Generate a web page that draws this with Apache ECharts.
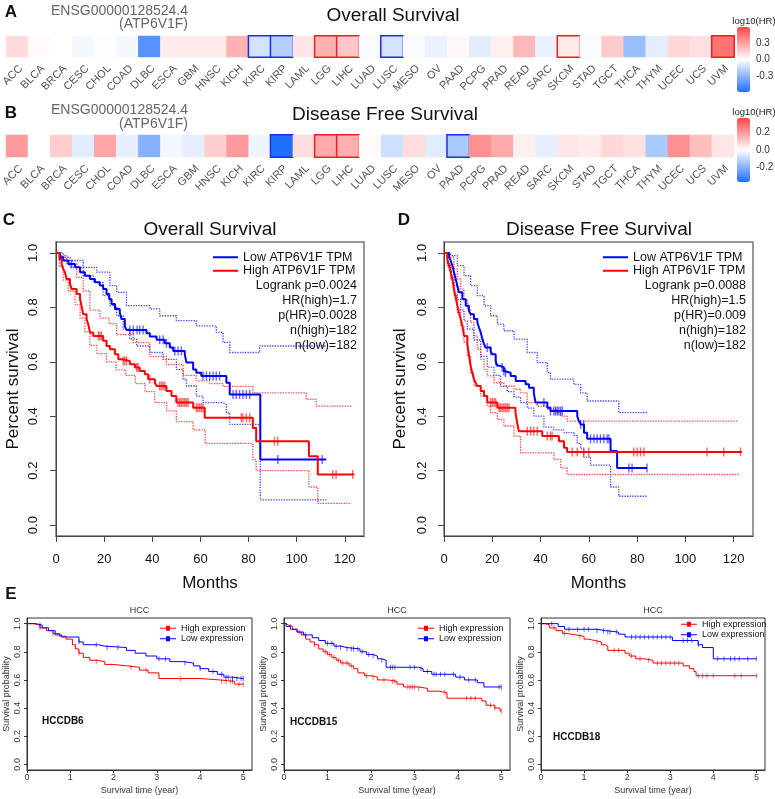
<!DOCTYPE html>
<html>
<head>
<meta charset="utf-8">
<title>ATP6V1F survival</title>
<script src="https://cdn.jsdelivr.net/npm/echarts@6.0.0/dist/echarts.min.js"></script>
<style>
html, body { margin: 0; padding: 0; background: #fff; }
#main { width: 775px; height: 799px; }
</style>
</head>
<body>
<div id="main"></div>
<script>
// ---- heatmaps (A, B): log10(HR) per cancer type ----
const cancers = ['ACC','BLCA','BRCA','CESC','CHOL','COAD','DLBC','ESCA','GBM','HNSC','KICH','KIRC','KIRP','LAML','LGG','LIHC','LUAD','LUSC','MESO','OV','PAAD','PCPG','PRAD','READ','SARC','SKCM','STAD','TGCT','THCA','THYM','UCEC','UCS','UVM'];
const logHrOS = [0.12,0.02,0.0,-0.03,-0.01,-0.03,-0.45,0.07,0.07,0.07,0.25,-0.12,-0.2,0.08,0.25,0.18,-0.02,-0.12,-0.02,-0.06,0.03,-0.08,0.05,0.23,-0.06,0.07,-0.02,0.17,-0.27,-0.07,0.13,0.1,0.45];
const sigOS = [0,0,0,0,0,0,0,0,0,0,0,-1,-1,0,1,1,0,-1,0,0,0,0,0,0,0,1,0,0,0,0,0,0,1];
const logHrDFS = [0.2,0.0,0.1,-0.05,0.18,-0.04,-0.2,-0.02,-0.04,0.1,0.2,-0.03,-0.37,0.07,0.17,0.16,0.01,-0.08,0.07,-0.05,-0.14,0.22,0.17,0.03,-0.04,0.05,0.04,0.08,0.06,-0.14,0.22,0.13,0.05];
const sigDFS = [0,0,0,0,0,0,0,0,0,0,0,0,-1,0,1,1,0,0,0,0,-1,0,0,0,0,0,0,0,0,0,0,0,0];
const barRangeOS = 0.6, barTicksOS = [-0.3, 0, 0.3];
const barRangeDFS = 0.37, barTicksDFS = [-0.2, 0, 0.2];

// ---- C: overall survival, [month, survival after event] ----
const osLow = [[1.66,0.984],[3.0,0.972],[5.1,0.959],[7.9,0.947],[10.0,0.929],[12.0,0.916],[14.1,0.904],[16.2,0.892],[18.2,0.880],[19.6,0.867],[21.0,0.849],[22.1,0.830],[23.1,0.812],[24.5,0.794],[26.5,0.781],[27.2,0.757],[28.6,0.730],[29.3,0.717],[37.6,0.705],[39.0,0.693],[41.8,0.681],[45.2,0.668],[47.3,0.652],[48.7,0.640],[53.5,0.628],[54.2,0.597],[57.0,0.572],[58.3,0.560],[60.4,0.548],[70.8,0.523],[72.2,0.480],[84.9,0.241]];
const osLowEnd = 112.3;
const osLowCens = [6.5,30.7,32.1,33.7,34.8,36.2,43.1,44.5,45.9,49.4,50.7,52.1,61.1,62.5,63.9,65.3,66.6,68.0,73.6,74.9,76.3,77.7,79.1,80.5,92.2,110.6];
const osLowUp = [[3.0,0.984],[5.8,0.972],[11.3,0.947],[16.9,0.929],[22.4,0.880],[25.2,0.855],[29.3,0.806],[39.0,0.794],[43.1,0.769],[50.0,0.751],[58.3,0.732],[66.6,0.708],[69.4,0.671],[72.2,0.634],[84.6,0.658]];
const osLowLo = [[1.66,0.972],[5.8,0.947],[11.3,0.916],[15.5,0.892],[19.6,0.843],[22.4,0.806],[25.2,0.769],[27.9,0.720],[30.7,0.683],[33.5,0.658],[39.0,0.634],[44.5,0.609],[50.0,0.572],[52.8,0.536],[54.2,0.511],[58.3,0.474],[61.1,0.450],[69.4,0.443],[70.8,0.413],[72.2,0.370],[84.9,0.093]];
const osHigh = [[1.4,0.978],[2.35,0.959],[3.0,0.941],[3.7,0.929],[4.4,0.904],[5.8,0.886],[6.5,0.867],[8.6,0.849],[10.0,0.830],[10.6,0.806],[11.3,0.775],[12.7,0.757],[13.4,0.738],[14.1,0.708],[15.5,0.695],[19.6,0.677],[21.0,0.658],[22.4,0.646],[24.5,0.628],[25.9,0.609],[27.2,0.603],[30.7,0.591],[32.8,0.579],[34.8,0.566],[36.9,0.554],[38.3,0.536],[41.1,0.523],[41.8,0.511],[45.9,0.493],[48.0,0.474],[50.0,0.450],[57.0,0.431],[61.8,0.394],[81.8,0.357],[83.2,0.308],[105.1,0.253],[108.8,0.186]];
const osHighEnd = 124.0;
const osHighCens = [17.6,18.2,18.9,27.9,28.6,29.3,33.5,34.1,39.0,43.1,43.8,44.5,45.2,50.7,51.4,52.1,52.8,53.5,54.2,54.9,58.3,59.0,59.7,60.4,61.1,77.0,77.7,79.1,80.5,90.8,92.2,115.0,116.4,123.3];
const osHighUp = [[1.66,0.99],[4.4,0.96],[8.6,0.91],[11.3,0.86],[14.1,0.79],[18.25,0.76],[22.0,0.74],[25.2,0.70],[32.1,0.67],[39.0,0.62],[45.9,0.59],[52.8,0.55],[58.3,0.53],[63.9,0.52],[69.4,0.51],[81.8,0.486],[104.0,0.462],[108.1,0.437]];
const osHighLo = [[1.4,0.95],[3.0,0.90],[5.1,0.86],[7.9,0.81],[10.0,0.76],[12.0,0.71],[14.1,0.66],[17.0,0.63],[21.0,0.60],[25.0,0.57],[29.0,0.55],[33.0,0.52],[37.0,0.49],[41.0,0.45],[46.0,0.42],[50.0,0.38],[57.0,0.35],[62.0,0.30],[81.8,0.24],[83.2,0.20],[105.1,0.14],[108.8,0.08]];
const osCIEnd = 122.6;

// ---- D: disease free survival ----
const dfsLow = [[2.1,0.984],[2.76,0.972],[3.45,0.953],[4.14,0.929],[4.83,0.904],[5.52,0.880],[6.2,0.855],[7.6,0.830],[9.0,0.806],[10.3,0.788],[11.0,0.775],[12.4,0.757],[13.8,0.745],[14.5,0.726],[15.2,0.708],[15.9,0.683],[16.6,0.665],[17.2,0.652],[19.3,0.640],[20.0,0.628],[21.4,0.603],[22.1,0.585],[23.4,0.579],[24.8,0.566],[25.5,0.560],[27.6,0.548],[29.7,0.529],[33.8,0.517],[35.2,0.505],[37.2,0.486],[37.9,0.450],[42.8,0.431],[44.1,0.419],[55.2,0.400],[55.9,0.382],[56.6,0.370],[58.0,0.339],[59.3,0.317],[69.0,0.272],[71.7,0.210]];
const dfsLowEnd = 84.1;
const dfsLowCens = [17.9,19.3,21.4,24.1,24.8,25.5,41.4,44.1,45.5,46.2,46.9,47.6,48.3,49.0,56.6,57.9,60.7,62.1,63.4,64.8,66.2,67.6,68.3,76.6,77.9,84.1];
const dfsLowUp = [[2.76,0.990],[5.5,0.953],[8.3,0.916],[11.0,0.880],[13.8,0.843],[16.6,0.806],[19.3,0.769],[22.1,0.738],[24.8,0.714],[29.0,0.683],[34.5,0.634],[38.6,0.597],[42.8,0.560],[44.1,0.536],[53.8,0.517],[56.6,0.486],[59.3,0.456],[72.4,0.413]];
const dfsLowLo = [[1.38,0.96],[2.76,0.93],[4.14,0.88],[5.52,0.83],[6.9,0.79],[8.28,0.75],[9.66,0.72],[12.4,0.68],[15.2,0.62],[17.9,0.58],[20.7,0.55],[23.4,0.51],[26.2,0.49],[29.0,0.47],[31.7,0.45],[34.5,0.43],[37.2,0.40],[41.4,0.36],[45.5,0.35],[49.7,0.34],[53.8,0.33],[55.2,0.30],[56.6,0.28],[57.9,0.25],[60.7,0.22],[69.0,0.14],[72.4,0.106]];
const dfsHigh = [[1.38,0.978],[2.07,0.953],[2.76,0.929],[3.45,0.904],[4.14,0.867],[4.83,0.837],[5.52,0.806],[6.2,0.781],[6.9,0.757],[7.6,0.732],[8.3,0.695],[9.66,0.665],[10.3,0.628],[11.0,0.585],[11.7,0.560],[12.4,0.536],[13.1,0.523],[13.8,0.511],[15.2,0.493],[16.6,0.474],[17.9,0.450],[22.1,0.431],[29.6,0.413],[30.3,0.376],[31.0,0.345],[40.7,0.327],[47.6,0.308],[49.7,0.284],[51.0,0.269]];
const dfsHighEnd = 123.4;
const dfsHighCens = [19.3,20.0,20.7,21.4,22.8,23.4,24.1,24.8,25.5,26.2,26.9,34.5,35.9,37.2,38.6,42.8,44.1,44.8,53.1,55.2,57.9,60.0,78.6,80.0,81.4,82.8,109.0,115.9,122.8];
const dfsHighUp = [[2.07,0.984],[4.14,0.941],[5.52,0.904],[6.9,0.867],[8.28,0.830],[9.66,0.794],[11.0,0.745],[12.4,0.695],[13.8,0.646],[15.2,0.609],[16.6,0.572],[17.9,0.548],[20.7,0.523],[24.8,0.511],[29.0,0.499],[31.7,0.486],[34.5,0.450],[38.6,0.437],[42.8,0.425],[46.9,0.413],[48.3,0.400],[51.0,0.382]];
const dfsHighLo = [[1.38,0.953],[2.76,0.904],[4.14,0.843],[5.52,0.781],[6.9,0.732],[8.28,0.671],[9.66,0.622],[11.0,0.560],[12.4,0.511],[15.2,0.474],[17.9,0.437],[19.3,0.413],[22.1,0.388],[24.8,0.364],[29.0,0.327],[31.7,0.265],[45.5,0.241],[48.3,0.210],[51.0,0.186]];
const dfsCIEnd = 122.0;

const statsOS = ['Logrank p=0.0024', 'HR(high)=1.7', 'p(HR)=0.0028', 'n(high)=182', 'n(low)=182'];
const statsDFS = ['Logrank p=0.0088', 'HR(high)=1.5', 'p(HR)=0.009', 'n(high)=182', 'n(low)=182'];

// ---- E: HCCDB cohorts, [year, survival] ----
const e6High = [[0.15,0.99],[0.3,0.97],[0.45,0.95],[0.6,0.93],[0.75,0.91],[0.9,0.89],[1.05,0.85],[1.12,0.82],[1.2,0.79],[1.3,0.76],[1.45,0.74],[1.6,0.73],[1.8,0.71],[2.0,0.70],[2.3,0.69],[2.6,0.67],[2.8,0.65],[3.05,0.61],[4.0,0.60],[4.45,0.59],[4.8,0.57]];
const e6HighCens = [0.3,0.6,1.2,1.6,2.4,2.75,3.55,4.5,4.6,4.7,4.75,4.9,5.0];
const e6Low = [[0.2,0.99],[0.35,0.97],[0.5,0.95],[0.65,0.92],[0.8,0.905],[1.2,0.87],[1.3,0.85],[1.65,0.84],[1.8,0.83],[2.3,0.81],[2.5,0.79],[2.75,0.77],[3.0,0.75],[3.3,0.73],[3.6,0.72],[3.85,0.70],[4.0,0.68],[4.2,0.66],[4.4,0.64],[4.55,0.62],[4.7,0.61]];
const e6LowCens = [0.3,1.2,1.6,1.85,2.1,3.05,3.2,3.65,4.0,4.3,4.5,4.6,4.65,4.75,4.85,4.95,5.0];
const e15High = [[0.05,0.99],[0.1,0.98],[0.2,0.96],[0.3,0.94],[0.4,0.92],[0.5,0.89],[0.6,0.87],[0.7,0.85],[0.8,0.82],[0.9,0.80],[1.0,0.78],[1.1,0.76],[1.2,0.74],[1.3,0.72],[1.5,0.70],[1.6,0.68],[1.7,0.65],[1.85,0.63],[2.0,0.62],[2.15,0.60],[2.4,0.59],[2.6,0.57],[2.75,0.55],[3.1,0.54],[3.3,0.52],[3.55,0.51],[3.75,0.47],[4.55,0.45],[4.65,0.42],[4.85,0.40],[4.97,0.38]];
const e15HighCens = [0.15,0.35,0.7,0.95,1.05,1.15,1.25,1.35,1.45,1.55,1.9,2.05,2.3,2.5,2.55,2.85,2.9,2.95,3.0,3.1,3.7,4.2,4.3,4.4,4.75,4.85,5.0];
const e15Low = [[0.05,0.98],[0.15,0.96],[0.3,0.94],[0.45,0.92],[0.65,0.90],[0.8,0.88],[0.95,0.86],[1.15,0.84],[1.3,0.83],[1.45,0.82],[1.75,0.80],[1.9,0.78],[2.05,0.77],[2.15,0.75],[2.25,0.74],[2.35,0.69],[3.1,0.68],[3.2,0.66],[3.4,0.64],[3.95,0.62],[4.15,0.60],[4.45,0.58],[4.6,0.55]];
const e15LowCens = [0.5,1.0,1.1,1.2,1.3,1.45,1.55,1.6,1.7,1.8,1.95,2.05,2.25,2.45,2.5,2.55,2.9,3.0,3.15,3.3,3.45,3.5,3.6,3.7,3.9,4.05,4.25,4.4,4.95,5.0];
const e18High = [[0.1,0.99],[0.2,0.97],[0.35,0.95],[0.5,0.93],[0.6,0.92],[0.8,0.91],[1.0,0.89],[1.1,0.88],[1.25,0.87],[1.4,0.85],[1.5,0.84],[1.55,0.81],[1.95,0.79],[2.05,0.77],[2.2,0.75],[2.4,0.74],[2.6,0.72],[3.3,0.70],[3.45,0.68],[3.55,0.66],[3.6,0.63]];
const e18HighCens = [0.3,0.55,0.9,1.3,1.7,1.8,2.1,2.3,2.5,2.7,2.8,2.9,3.0,3.1,3.2,3.65,3.75,3.85,4.0,4.5,4.65,5.0];
const e18Low = [[0.4,0.98],[0.55,0.96],[1.3,0.95],[1.5,0.94],[1.8,0.925],[1.95,0.905],[3.05,0.88],[3.65,0.85],[3.75,0.83],[4.0,0.75]];
const e18LowCens = [0.25,0.65,0.85,1.0,1.1,1.3,1.45,1.55,1.6,1.75,2.1,2.2,2.3,2.4,2.5,2.6,2.7,2.8,2.9,3.0,3.3,3.4,3.5,3.65,4.1,4.25,4.4,4.5,4.6,4.8,5.0];
const eEnd = 5.0;

const monthTicks = [0, 20, 40, 60, 80, 100, 120];
const yearTicks = [0, 1, 2, 3, 4, 5];
const survTicks = [0, 0.2, 0.4, 0.6, 0.8, 1.0];

const FONT = "'Liberation Sans', Arial, Helvetica, sans-serif";
const BLUE = '#0000ff', RED = '#ff0000';

// Kaplan-Meier helpers: turn event lists into step paths
function stepLine(ev, end) {
  const pts = [[0, 1]];
  let s = 1;
  ev.forEach(([t, v]) => { pts.push([t, s]); pts.push([t, v]); s = v; });
  pts.push([end, s]);
  return pts;
}
function survAt(ev, t) {
  let s = 1;
  ev.forEach(([et, v]) => { if (et <= t) s = v; });
  return s;
}

function heatData(vals, sig) {
  return vals.map((v, i) => {
    const item = { value: [i, 0, v] };
    if (sig[i]) item.itemStyle = { borderColor: sig[i] > 0 ? '#ee1c25' : '#1c2cee', borderWidth: 1.5 };
    return item;
  });
}

const grids = [
  { left: 6, top: 36, width: 728, height: 21 },
  { left: 6, top: 135, width: 728, height: 22 },
  { left: 737, top: 27, width: 13, height: 65 },
  { left: 737, top: 118, width: 13, height: 64 },
  { left: 56, top: 242, width: 308, height: 294, show: true, borderColor: '#777', borderWidth: 1.5 },
  { left: 444, top: 242, width: 309, height: 294, show: true, borderColor: '#777', borderWidth: 1.5 },
  { left: 27, top: 618, width: 225, height: 152, show: true, borderColor: '#333', borderWidth: 1 },
  { left: 284, top: 618, width: 226, height: 152, show: true, borderColor: '#333', borderWidth: 1 },
  { left: 541, top: 618, width: 224, height: 152, show: true, borderColor: '#333', borderWidth: 1 }
].map(g => Object.assign({ outerBoundsMode: 'none', containLabel: false }, g));

const xAxes = [], yAxes = [];
[0, 1].forEach(gi => {
  xAxes.push({
    type: 'category', gridIndex: gi, data: cancers,
    axisLine: { show: false }, axisTick: { show: false },
    axisLabel: { interval: 0, rotate: 45, align: 'right', verticalAlign: 'top', fontSize: 11, color: '#555', margin: 6 }
  });
  yAxes.push({ type: 'category', gridIndex: gi, data: [''], show: false });
});
[[2, barRangeOS, barTicksOS], [3, barRangeDFS, barTicksDFS]].forEach(([gi, r, ticks]) => {
  xAxes.push({ type: 'value', gridIndex: gi, show: false, min: 0, max: 1 });
  yAxes.push({
    type: 'value', gridIndex: gi, min: -r, max: r, position: 'right',
    axisLine: { show: false }, axisTick: { show: false }, splitLine: { show: false },
    axisLabel: { customValues: ticks, fontSize: 10, color: '#333', margin: 6, formatter: v => v.toFixed(1) }
  });
});

function kmAxes(gi, xMax, xTicks, o) {
  const line = { show: true, onZero: false, lineStyle: { color: o.axisColor, width: 1 } };
  xAxes.push({
    type: 'value', gridIndex: gi, min: 0, max: xMax,
    axisLine: line,
    axisTick: { show: true, length: o.tickLen, customValues: xTicks, lineStyle: { color: o.axisColor } },
    axisLabel: { customValues: xTicks, fontSize: o.font, color: o.text, margin: o.xMargin },
    splitLine: { show: false },
    name: o.xName, nameLocation: 'middle', nameGap: o.xGap,
    nameTextStyle: { fontSize: o.nameFont, color: o.text }
  });
  yAxes.push({
    type: 'value', gridIndex: gi, min: -0.04, max: 1.04,
    axisLine: line,
    axisTick: { show: true, length: o.tickLen, customValues: survTicks, lineStyle: { color: o.axisColor } },
    axisLabel: { customValues: survTicks, rotate: 90, fontSize: o.font, color: o.text, margin: o.yMargin, formatter: v => v.toFixed(1) },
    splitLine: { show: false },
    name: o.yName, nameLocation: 'middle', nameGap: o.yGap, nameRotate: 90,
    nameTextStyle: { fontSize: o.nameFont, color: o.text }
  });
}
const bigAxis = { axisColor: '#444', text: '#111', font: 13, nameFont: 17, tickLen: 6, xMargin: 17, yMargin: 16, xName: 'Months', yName: 'Percent survival', xGap: 39, yGap: 34 };
const smallAxis = { axisColor: '#333', text: '#333', font: 9, nameFont: 9, tickLen: 3, xMargin: 3, yMargin: 5, xName: 'Survival time (year)', yName: 'Survival probability', xGap: 16, yGap: 16 };
kmAxes(4, 128, monthTicks, bigAxis);
kmAxes(5, 128, monthTicks, Object.assign({}, bigAxis, { yGap: 35, yMargin: 15 }));
kmAxes(6, 5.2, yearTicks, smallAxis);
kmAxes(7, 5.2, yearTicks, smallAxis);
kmAxes(8, 5.2, yearTicks, smallAxis);

const series = [
  { type: 'heatmap', xAxisIndex: 0, yAxisIndex: 0, data: heatData(logHrOS, sigOS), emphasis: { disabled: true } },
  { type: 'heatmap', xAxisIndex: 1, yAxisIndex: 1, data: heatData(logHrDFS, sigDFS), emphasis: { disabled: true } }
];

function addCurve(ax, name, ev, end, color, width, cens, tick) {
  series.push({
    type: 'line', name, xAxisIndex: ax, yAxisIndex: ax, data: stepLine(ev, end),
    symbol: 'none', z: 3, silent: true,
    lineStyle: { color, width }, itemStyle: { color }
  });
  series.push({
    type: 'scatter', name: name + ' censored', xAxisIndex: ax, yAxisIndex: ax, z: 4, silent: true,
    data: cens.map(t => [t, survAt(ev, t)]),
    symbol: 'rect', symbolSize: tick, itemStyle: { color, opacity: 0.6 }
  });
}
function addCI(ax, ev, end, color) {
  series.push({
    type: 'line', name: 'ci', xAxisIndex: ax, yAxisIndex: ax, data: stepLine(ev, end),
    symbol: 'none', z: 2, silent: true,
    lineStyle: { color, width: 1.3, type: 'dotted', opacity: 0.75 }
  });
}

addCI(4, osLowUp, osLowEnd, BLUE);
addCI(4, osLowLo, osLowEnd, BLUE);
addCI(4, osHighUp, osCIEnd, RED);
addCI(4, osHighLo, osCIEnd, RED);
addCurve(4, 'Low ATP6V1F TPM', osLow, osLowEnd, BLUE, 2, osLowCens, [1.4, 9]);
addCurve(4, 'High ATP6V1F TPM', osHigh, osHighEnd, RED, 2, osHighCens, [1.4, 9]);

addCI(5, dfsLowUp, dfsLowEnd, BLUE);
addCI(5, dfsLowLo, dfsLowEnd, BLUE);
addCI(5, dfsHighUp, dfsCIEnd, RED);
addCI(5, dfsHighLo, dfsCIEnd, RED);
addCurve(5, 'Low ATP6V1F TPM', dfsLow, dfsLowEnd, BLUE, 2, dfsLowCens, [1.4, 9]);
addCurve(5, 'High ATP6V1F TPM', dfsHigh, dfsHighEnd, RED, 2, dfsHighCens, [1.4, 9]);

addCurve(6, 'High expression', e6High, eEnd, RED, 1, e6HighCens, [1, 5]);
addCurve(6, 'Low expression', e6Low, eEnd, BLUE, 1, e6LowCens, [1, 5]);
addCurve(7, 'High expression', e15High, eEnd, RED, 1, e15HighCens, [1, 5]);
addCurve(7, 'Low expression', e15Low, eEnd, BLUE, 1, e15LowCens, [1, 5]);
addCurve(8, 'High expression', e18High, eEnd, RED, 1, e18HighCens, [1, 5]);
addCurve(8, 'Low expression', e18Low, eEnd, BLUE, 1, e18LowCens, [1, 5]);

const heatColors = ['#1e6fff', '#ffffff', '#ff4545'];
const visualMap = [
  { type: 'continuous', seriesIndex: 0, min: -barRangeOS, max: barRangeOS, left: 737, top: 27, itemWidth: 13, itemHeight: 65, padding: 0, calculable: false, hoverLink: false, inRange: { color: heatColors } },
  { type: 'continuous', seriesIndex: 1, min: -barRangeDFS, max: barRangeDFS, left: 737, top: 118, itemWidth: 13, itemHeight: 64, padding: 0, calculable: false, hoverLink: false, inRange: { color: heatColors } }
];

const kmIcon = 'rect';
const exprIcon = 'path://M0,2.5H6V0.5H10V2.5H16V3.5H10V5.5H6V3.5H0Z';
function mkLegend(left, top, names, icon, o) {
  return {
    left, top, orient: 'vertical', selectedMode: false, padding: 0,
    itemWidth: o.w, itemHeight: o.h, itemGap: 0,
    textStyle: { fontSize: o.fs, lineHeight: o.lh, color: '#111' },
    data: names.map(n => ({ name: n, icon }))
  };
}
const kmLeg = { w: 25, h: 2, fs: 12.5, lh: 13.5 };
const eLeg = { w: 16, h: 6, fs: 9, lh: 10.5 };
const legend = [
  mkLegend(213, 250.5, ['Low ATP6V1F TPM', 'High ATP6V1F TPM'], kmIcon, kmLeg),
  mkLegend(603, 250.5, ['Low ATP6V1F TPM', 'High ATP6V1F TPM'], kmIcon, kmLeg),
  mkLegend(160, 623, ['High expression', 'Low expression'], exprIcon, eLeg),
  mkLegend(418, 623, ['High expression', 'Low expression'], exprIcon, eLeg),
  mkLegend(681, 619, ['High expression', 'Low expression'], exprIcon, eLeg)
];

function txt(x, y, text, size, opts) {
  opts = opts || {};
  const align = opts.align || 'center';
  const va = opts.va || 'middle';
  return {
    type: 'text', x, y, silent: true,
    style: {
      text, fill: opts.color || '#111',
      font: (opts.bold ? 'bold ' : '') + size + 'px ' + FONT,
      align, textAlign: align, verticalAlign: va, textVerticalAlign: va,
      lineHeight: opts.lh
    }
  };
}
const graphics = [
  txt(11, 12, 'A', 17, { bold: true }),
  txt(11, 113, 'B', 17, { bold: true }),
  txt(9, 220, 'C', 17, { bold: true }),
  txt(404, 220, 'D', 17, { bold: true }),
  txt(11, 594, 'E', 17, { bold: true }),
  txt(188, 11, 'ENSG00000128524.4', 14, { align: 'right', color: '#666' }),
  txt(188, 24, '(ATP6V1F)', 14, { align: 'right', color: '#666' }),
  txt(188, 110, 'ENSG00000128524.4', 14, { align: 'right', color: '#666' }),
  txt(188, 124, '(ATP6V1F)', 14, { align: 'right', color: '#666' }),
  txt(393, 16, 'Overall Survival', 19),
  txt(385, 115, 'Disease Free Survival', 19),
  txt(754, 21, 'log10(HR)', 9.5, { color: '#222' }),
  txt(754, 112, 'log10(HR)', 9.5, { color: '#222' }),
  txt(210, 230, 'Overall Survival', 19),
  txt(599, 230, 'Disease Free Survival', 19),
  txt(357, 277.5, statsOS.join('\n'), 12.5, { align: 'right', va: 'top', lh: 15.2 }),
  txt(746, 277.5, statsDFS.join('\n'), 12.5, { align: 'right', va: 'top', lh: 15.2 }),
  txt(139.5, 611, 'HCC', 9, { color: '#333' }),
  txt(397, 611, 'HCC', 9, { color: '#333' }),
  txt(653, 611, 'HCC', 9, { color: '#333' }),
  txt(42, 721, 'HCCDB6', 10, { bold: true, align: 'left' }),
  txt(290, 722, 'HCCDB15', 10, { bold: true, align: 'left' }),
  txt(553, 737, 'HCCDB18', 10, { bold: true, align: 'left' })
];

const chart = echarts.init(document.getElementById('main'));
chart.setOption({
  animation: false,
  backgroundColor: '#fff',
  textStyle: { fontFamily: FONT },
  grid: grids,
  xAxis: xAxes,
  yAxis: yAxes,
  visualMap,
  legend,
  graphic: { elements: graphics },
  series
});
</script>
</body>
</html>
